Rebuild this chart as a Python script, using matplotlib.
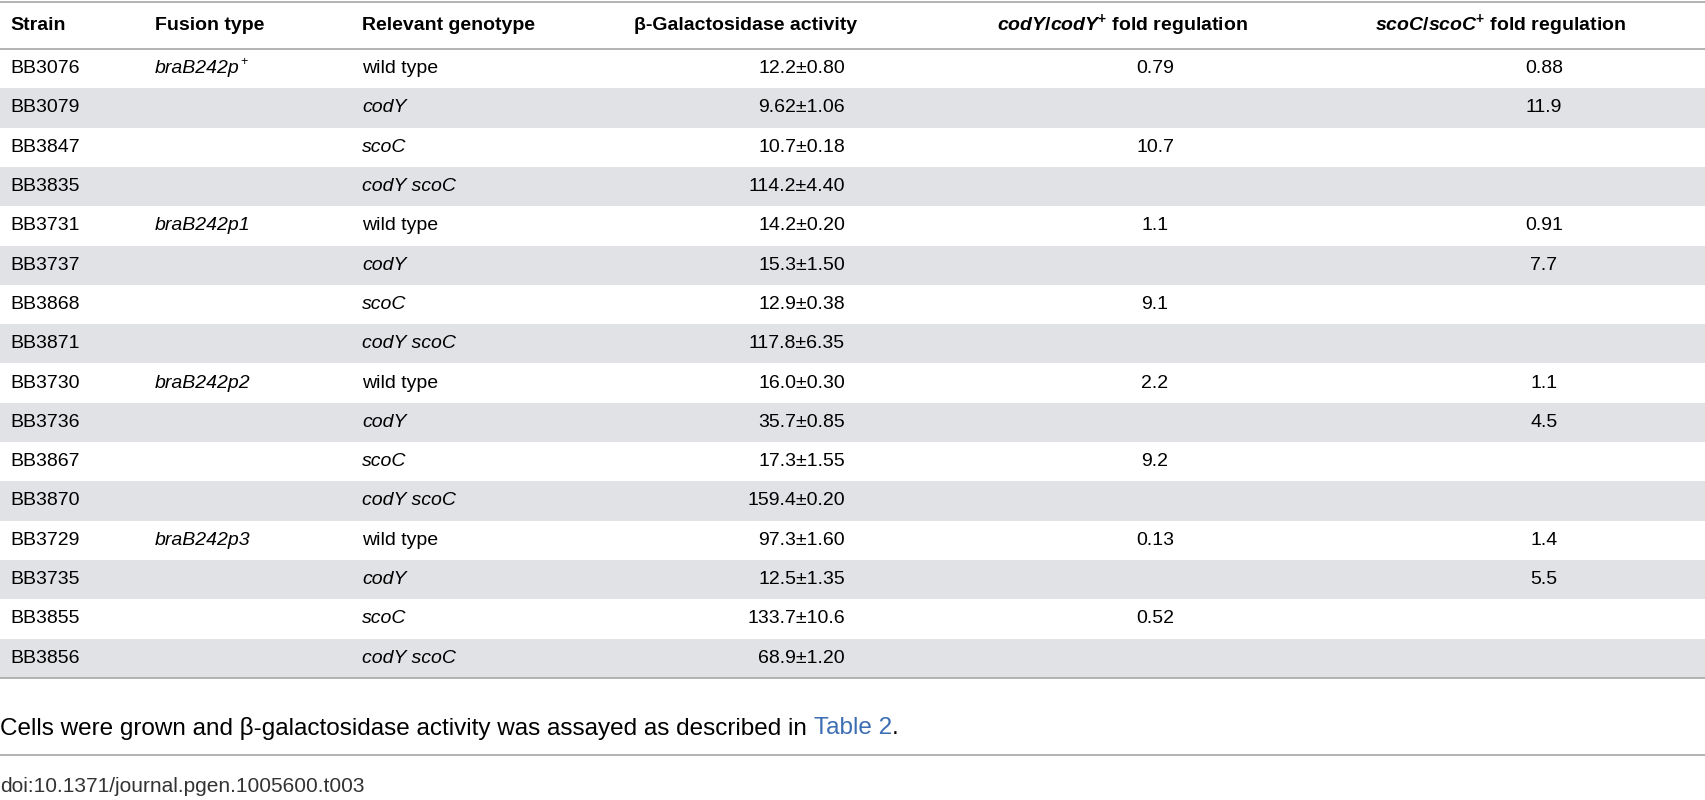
import matplotlib.pyplot as plt
from matplotlib.patches import Rectangle

plt.rcParams['font.family'] = ['Liberation Sans', 'DejaVu Sans']
plt.rcParams['mathtext.fontset'] = 'custom'
plt.rcParams['mathtext.rm'] = 'Liberation Sans'
plt.rcParams['mathtext.it'] = 'Liberation Sans:italic'
plt.rcParams['mathtext.bf'] = 'Liberation Sans:bold'
plt.rcParams['mathtext.bfit'] = 'Liberation Sans:italic:bold'

headers = ['Strain', 'Fusion type', 'Relevant genotype', 'β-Galactosidase activity',
           r'$\mathbfit{codY}\mathbf{/}\mathbfit{codY}^{\mathbf{+}}\mathbf{\ fold\ regulation}$',
           r'$\mathbfit{scoC}\mathbf{/}\mathbfit{scoC}^{\mathbf{+}}\mathbf{\ fold\ regulation}$']
strains = ['BB3076', 'BB3079', 'BB3847', 'BB3835', 'BB3731', 'BB3737', 'BB3868', 'BB3871',
           'BB3730', 'BB3736', 'BB3867', 'BB3870', 'BB3729', 'BB3735', 'BB3855', 'BB3856']
fusions = ['braB242p', '', '', '', 'braB242p1', '', '', '',
           'braB242p2', '', '', '', 'braB242p3', '', '', '']
fusion_sup = ['+', '', '', '', '', '', '', '', '', '', '', '', '', '', '', '']
genotypes = ['wild type', 'codY', 'scoC', 'codY scoC'] * 4
activity = ['12.2±0.80', '9.62±1.06', '10.7±0.18', '114.2±4.40',
            '14.2±0.20', '15.3±1.50', '12.9±0.38', '117.8±6.35',
            '16.0±0.30', '35.7±0.85', '17.3±1.55', '159.4±0.20',
            '97.3±1.60', '12.5±1.35', '133.7±10.6', '68.9±1.20']
cody_fold = ['0.79', '', '10.7', '', '1.1', '', '9.1', '', '2.2', '', '9.2', '', '0.13', '', '0.52', '']
scoc_fold = ['0.88', '11.9', '', '', '0.91', '7.7', '', '', '1.1', '4.5', '', '', '1.4', '5.5', '', '']

fig = plt.figure(figsize=(17.05, 8), dpi=100)
ax = fig.add_axes([0, 0, 1, 1])
ax.set_xlim(0, 1705)
ax.set_ylim(800, 0)
ax.axis('off')

fs = 14
line_c = '#a6a6a6'
shade = '#e1e2e5'
top, head_h, row_h = 2, 47, 39.3

ax.plot([0, 1705], [top, top], color=line_c, lw=1.2)
ax.plot([0, 1705], [top + head_h, top + head_h], color=line_c, lw=1.2)
hx = [10, 155, 362, 634, 997, 1375]
for x, h in zip(hx, headers):
    ax.text(x, top + head_h / 2, h, fontsize=fs, fontweight='bold', va='center', ha='left')

fig.canvas.draw()
for i in range(len(strains)):
    y0 = top + head_h + i * row_h
    if i % 2 == 1:
        ax.add_patch(Rectangle((0, y0), 1705, row_h, color=shade, lw=0))
    yc = y0 + row_h / 2
    ax.text(10, yc, strains[i], fontsize=fs, va='center')
    ft = ax.text(155, yc, fusions[i], fontsize=fs, va='center', style='italic')
    if fusion_sup[i]:
        e = ft.get_window_extent()
        ax.text(e.x1 + 1, yc - 7, fusion_sup[i], fontsize=9, va='center')
    g = genotypes[i]
    ax.text(362, yc, g, fontsize=fs, va='center', style='normal' if g == 'wild type' else 'italic')
    ax.text(845, yc, activity[i], fontsize=fs, va='center', ha='right')
    ax.text(1155, yc, cody_fold[i], fontsize=fs, va='center', ha='center')
    ax.text(1544, yc, scoc_fold[i], fontsize=fs, va='center', ha='center')

yb = top + head_h + len(strains) * row_h
ax.plot([0, 1705], [yb, yb], color=line_c, lw=1.2)

fs2 = 17.5
t = ax.text(0, 728, 'Cells were grown and β-galactosidase activity was assayed as described in ',
            fontsize=fs2, va='center')
fig.canvas.draw()
bb = t.get_window_extent()
t2 = ax.text(bb.x1, 728, 'Table 2', fontsize=fs2, va='center', color='#3d6eb4')
fig.canvas.draw()
ax.text(t2.get_window_extent().x1, 728, '.', fontsize=fs2, va='center')
ax.plot([0, 1705], [755, 755], color=line_c, lw=1.2)
ax.text(0, 787, 'doi:10.1371/journal.pgen.1005600.t003', fontsize=15, va='center', color='#333333')

fig.savefig('out.png', dpi=100)
